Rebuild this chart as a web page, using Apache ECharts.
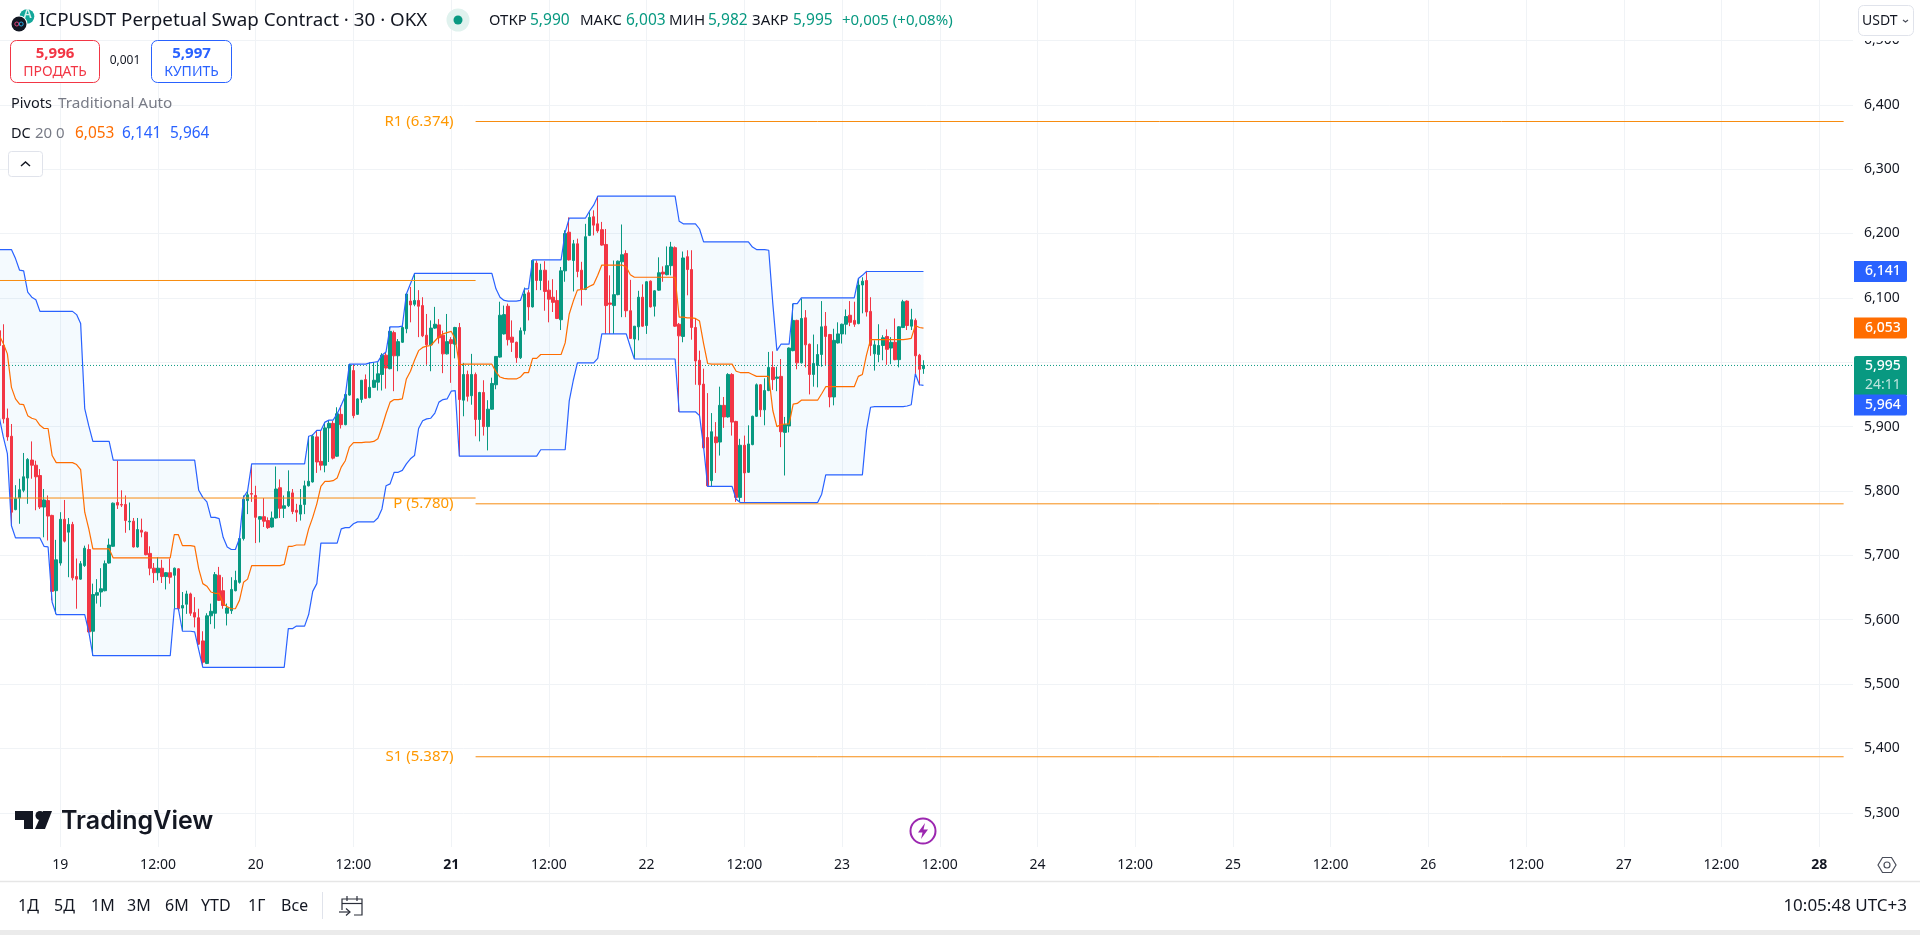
<!DOCTYPE html>
<html>
<head>
<meta charset="utf-8">
<title>ICPUSDT Perpetual Swap Contract</title>
<style>html,body{margin:0;padding:0;background:#fff;overflow:hidden}#chart{width:1920px;height:935px}</style>
<script src="https://cdn.jsdelivr.net/npm/echarts@6/dist/echarts.min.js"></script>
</head>
<body>
<div id="chart"></div>
<script>
// 30-minute bars; bar number 0 opens on the 19th at 00:00, so the first bar is number -15.
const firstBar = -15;

const barOpen = [
6.049,6.026,5.913,5.885,5.771,5.789,5.801,5.820,5.848,5.840,
5.824,5.775,5.785,5.762,5.645,5.688,5.756,5.736,5.748,5.667,
5.663,5.684,5.709,5.582,5.638,5.643,5.645,5.688,5.714,5.782,
5.779,5.779,5.752,5.753,5.713,5.739,5.736,5.703,5.680,5.673,
5.680,5.667,5.673,5.669,5.679,5.618,5.624,5.640,5.611,5.603,
5.567,5.532,5.606,5.610,5.669,5.645,5.610,5.614,5.645,5.658,
5.726,5.785,5.796,5.793,5.756,5.760,5.754,5.744,5.758,5.805,
5.773,5.777,5.797,5.770,5.764,5.779,5.808,5.814,5.884,5.846,
5.840,5.898,5.905,5.854,5.919,5.903,5.949,5.987,5.919,5.942,
5.973,5.945,5.961,5.969,5.981,6.011,5.990,6.046,6.010,6.031,
6.052,6.095,6.090,6.096,6.088,6.042,6.027,6.053,6.058,6.042,
6.013,6.035,6.028,6.054,5.941,5.981,5.948,5.981,5.911,5.953,
5.900,5.927,5.965,6.008,6.044,6.087,6.039,6.031,6.007,6.049,
6.108,6.086,6.154,6.127,6.143,6.112,6.101,6.096,6.066,6.142,
6.202,6.158,6.184,6.143,6.113,6.197,6.226,6.215,6.206,6.183,
6.092,6.088,6.105,6.156,6.169,6.080,6.036,6.055,6.101,6.057,
6.126,6.087,6.112,6.140,6.136,6.150,6.178,6.059,6.040,6.164,
6.144,6.054,6.003,5.966,5.883,5.816,5.884,5.876,5.933,5.915,
5.981,5.908,5.790,5.871,5.829,5.872,5.916,5.965,5.926,5.956,
5.992,5.975,5.978,5.891,5.901,6.018,6.065,5.999,6.069,6.028,
5.981,5.995,6.012,6.056,6.043,5.946,6.030,6.044,6.059,6.073,
6.065,6.060,6.120,6.127,6.079,6.013,6.012,6.026,6.040,6.022,
6.031,6.004,6.054,6.095,6.056,6.065,6.011,5.990];

const barClose = [
6.026,5.912,5.884,5.767,5.788,5.802,5.822,5.849,5.840,5.822,
5.775,5.786,5.761,5.644,5.693,5.756,5.722,5.748,5.665,5.663,
5.687,5.711,5.581,5.639,5.642,5.648,5.687,5.716,5.781,5.778,
5.778,5.754,5.753,5.713,5.740,5.736,5.701,5.680,5.673,5.680,
5.667,5.673,5.666,5.680,5.617,5.622,5.640,5.610,5.604,5.562,
5.534,5.606,5.613,5.670,5.630,5.622,5.618,5.647,5.661,5.726,
5.787,5.794,5.795,5.759,5.760,5.753,5.743,5.758,5.803,5.773,
5.777,5.799,5.768,5.767,5.778,5.808,5.815,5.885,5.845,5.840,
5.898,5.905,5.851,5.920,5.903,5.950,5.996,5.917,5.943,5.972,
5.944,5.961,5.972,5.982,6.011,5.991,6.048,6.010,6.032,6.054,
6.106,6.089,6.096,6.087,6.041,6.027,6.053,6.059,6.038,6.013,
6.032,6.029,6.054,5.942,5.981,5.947,5.981,5.911,5.953,5.900,
5.927,5.967,6.009,6.073,6.074,6.035,6.031,6.007,6.049,6.106,
6.086,6.158,6.127,6.143,6.110,6.098,6.093,6.068,6.142,6.200,
6.159,6.184,6.141,6.113,6.195,6.225,6.213,6.204,6.182,6.088,
6.090,6.105,6.157,6.167,6.080,6.037,6.056,6.101,6.056,6.125,
6.086,6.111,6.139,6.137,6.150,6.179,6.056,6.041,6.162,6.144,
6.054,6.002,5.965,5.867,5.808,5.892,5.875,5.933,5.915,5.981,
5.907,5.790,5.871,5.828,5.873,5.916,5.965,5.926,5.956,5.992,
5.973,5.977,5.892,5.903,6.022,6.065,5.999,6.068,6.027,5.981,
5.998,6.012,6.055,6.040,5.946,6.034,6.044,6.059,6.071,6.062,
6.059,6.120,6.126,6.078,6.026,6.027,6.026,6.038,6.020,6.031,
6.004,6.055,6.094,6.057,6.066,6.010,5.989,5.995];

const barHigh = [
6.060,6.059,5.928,5.904,5.809,5.819,5.859,5.851,5.877,5.847,
5.834,5.803,5.793,5.763,5.724,5.767,5.786,5.758,5.752,5.695,
5.691,5.715,5.717,5.656,5.663,5.680,5.692,5.726,5.782,5.847,
5.801,5.793,5.782,5.758,5.758,5.757,5.737,5.714,5.688,5.697,
5.693,5.674,5.695,5.681,5.680,5.643,5.645,5.642,5.635,5.617,
5.582,5.610,5.625,5.674,5.682,5.666,5.625,5.666,5.676,5.726,
5.793,5.801,5.842,5.808,5.761,5.789,5.759,5.768,5.838,5.818,
5.793,5.832,5.803,5.780,5.803,5.816,5.885,5.888,5.894,5.894,
5.907,5.909,5.909,5.930,5.933,5.951,5.997,5.997,5.944,5.972,
5.981,6.000,6.000,6.000,6.014,6.016,6.055,6.049,6.036,6.057,
6.107,6.117,6.137,6.112,6.101,6.075,6.065,6.086,6.067,6.049,
6.075,6.039,6.055,6.061,5.999,5.987,6.013,5.984,5.954,5.972,
5.941,5.976,6.009,6.094,6.088,6.091,6.065,6.032,6.054,6.116,
6.112,6.158,6.158,6.153,6.157,6.127,6.129,6.112,6.148,6.205,
6.225,6.190,6.192,6.156,6.215,6.233,6.236,6.258,6.218,6.207,
6.135,6.158,6.158,6.214,6.174,6.128,6.056,6.111,6.121,6.126,
6.127,6.112,6.163,6.149,6.180,6.187,6.180,6.061,6.172,6.174,
6.174,6.068,6.018,5.990,5.952,5.921,5.907,5.962,5.946,5.983,
5.983,5.909,5.881,5.886,5.902,5.917,5.967,5.966,5.975,6.016,
6.017,5.993,6.005,5.915,6.023,6.091,6.066,6.099,6.081,6.029,
6.043,6.028,6.095,6.078,6.044,6.052,6.062,6.060,6.082,6.095,
6.094,6.130,6.132,6.142,6.101,6.034,6.059,6.042,6.051,6.039,
6.068,6.056,6.097,6.096,6.083,6.068,6.013,6.003];

const barLow = [
6.020,5.905,5.878,5.746,5.770,5.749,5.798,5.780,5.819,5.770,
5.772,5.728,5.723,5.630,5.609,5.684,5.720,5.666,5.661,5.617,
5.662,5.682,5.580,5.544,5.625,5.620,5.644,5.687,5.713,5.772,
5.775,5.735,5.739,5.712,5.712,5.728,5.700,5.669,5.657,5.661,
5.657,5.647,5.656,5.617,5.614,5.583,5.609,5.606,5.588,5.561,
5.527,5.531,5.593,5.586,5.629,5.617,5.591,5.609,5.644,5.656,
5.723,5.764,5.783,5.719,5.720,5.744,5.741,5.743,5.757,5.758,
5.758,5.775,5.764,5.752,5.754,5.764,5.807,5.813,5.828,5.832,
5.829,5.845,5.849,5.853,5.897,5.902,5.948,5.913,5.918,5.937,
5.943,5.944,5.960,5.956,5.956,5.959,5.989,5.955,5.986,6.030,
6.045,6.062,6.087,6.039,6.039,5.996,5.986,6.052,6.029,5.983,
6.012,5.968,6.006,5.854,5.916,5.939,5.934,5.885,5.877,5.886,
5.863,5.926,5.958,6.007,6.043,6.026,6.016,5.999,6.005,6.043,
6.065,6.085,6.112,6.112,6.080,6.062,6.078,6.067,6.050,6.125,
6.158,6.110,6.132,6.088,6.112,6.196,6.197,6.201,6.181,6.044,
6.044,6.044,6.104,6.070,6.070,6.037,6.005,6.034,6.055,6.044,
6.085,6.071,6.111,6.125,6.135,6.135,6.055,5.923,6.031,6.104,
6.035,5.965,5.916,5.866,5.807,5.807,5.828,5.855,5.898,5.914,
5.886,5.783,5.783,5.783,5.828,5.871,5.915,5.915,5.902,5.955,
5.957,5.955,5.868,5.824,5.891,6.017,5.989,5.998,5.992,5.950,
5.962,5.961,5.993,5.995,5.930,5.933,6.029,6.029,6.043,6.056,
6.055,6.059,6.076,6.071,6.010,5.987,6.000,6.003,5.996,5.997,
6.003,5.992,6.053,6.050,6.050,5.982,5.964,5.982];

// Donchian channel, length 20
const dcUpper = [
6.175,6.175,6.175,6.175,6.161,6.143,6.142,6.109,6.101,6.097,
6.079,6.079,6.079,6.079,6.079,6.079,6.079,6.079,6.079,6.074,
6.060,5.928,5.901,5.877,5.877,5.877,5.877,5.877,5.848,5.848,
5.848,5.848,5.848,5.848,5.848,5.848,5.848,5.848,5.848,5.848,
5.848,5.848,5.848,5.848,5.848,5.848,5.848,5.848,5.848,5.801,
5.790,5.783,5.759,5.759,5.757,5.728,5.713,5.709,5.709,5.726,
5.790,5.800,5.842,5.842,5.842,5.842,5.842,5.842,5.842,5.842,
5.842,5.842,5.842,5.842,5.842,5.842,5.885,5.887,5.894,5.894,
5.907,5.910,5.910,5.920,5.933,5.948,5.997,5.997,5.997,5.997,
5.997,5.999,6.000,6.001,6.011,6.016,6.055,6.055,6.055,6.056,
6.106,6.122,6.138,6.138,6.138,6.138,6.138,6.138,6.138,6.138,
6.138,6.138,6.138,6.138,6.138,6.138,6.138,6.138,6.138,6.138,
6.138,6.138,6.114,6.101,6.096,6.095,6.095,6.095,6.096,6.114,
6.114,6.159,6.159,6.159,6.159,6.159,6.159,6.159,6.159,6.202,
6.224,6.224,6.224,6.224,6.224,6.235,6.244,6.258,6.258,6.258,
6.258,6.258,6.258,6.258,6.258,6.258,6.258,6.258,6.258,6.258,
6.258,6.258,6.258,6.258,6.258,6.258,6.258,6.219,6.215,6.215,
6.215,6.215,6.207,6.187,6.187,6.187,6.187,6.187,6.187,6.187,
6.187,6.187,6.187,6.187,6.187,6.179,6.175,6.175,6.175,6.174,
6.091,6.018,6.028,6.028,6.028,6.091,6.091,6.100,6.100,6.100,
6.100,6.100,6.100,6.100,6.100,6.100,6.100,6.100,6.100,6.100,
6.100,6.130,6.135,6.141,6.141,6.141,6.141,6.141,6.141,6.141,
6.141,6.141,6.141,6.141,6.141,6.141,6.141,6.141];

const dcLower = [
5.915,5.884,5.858,5.746,5.727,5.727,5.727,5.727,5.727,5.727,
5.727,5.714,5.713,5.627,5.608,5.608,5.608,5.608,5.608,5.608,
5.608,5.608,5.581,5.544,5.544,5.544,5.544,5.544,5.544,5.544,
5.544,5.544,5.544,5.544,5.544,5.544,5.544,5.544,5.544,5.544,
5.544,5.544,5.544,5.617,5.617,5.582,5.582,5.582,5.581,5.553,
5.526,5.526,5.526,5.526,5.526,5.526,5.526,5.526,5.526,5.526,
5.526,5.526,5.526,5.526,5.526,5.526,5.526,5.526,5.526,5.526,
5.526,5.586,5.586,5.590,5.590,5.590,5.608,5.644,5.656,5.719,
5.719,5.719,5.719,5.719,5.741,5.743,5.743,5.749,5.752,5.752,
5.752,5.752,5.752,5.758,5.772,5.808,5.811,5.829,5.829,5.832,
5.842,5.850,5.855,5.897,5.909,5.912,5.913,5.921,5.938,5.942,
5.943,5.955,5.956,5.854,5.854,5.854,5.854,5.854,5.854,5.854,
5.854,5.854,5.854,5.854,5.854,5.854,5.854,5.854,5.854,5.854,
5.854,5.854,5.854,5.864,5.864,5.864,5.864,5.864,5.864,5.864,
5.940,5.972,5.999,5.999,5.999,5.999,5.999,6.006,6.044,6.044,
6.044,6.044,6.044,6.044,6.044,6.024,6.005,6.005,6.005,6.005,
6.005,6.005,6.005,6.005,6.005,6.005,6.005,5.923,5.923,5.923,
5.923,5.923,5.917,5.868,5.807,5.807,5.807,5.807,5.807,5.807,
5.807,5.787,5.782,5.782,5.782,5.782,5.782,5.782,5.782,5.782,
5.782,5.782,5.782,5.782,5.782,5.782,5.782,5.782,5.782,5.782,
5.782,5.782,5.795,5.825,5.825,5.825,5.825,5.825,5.825,5.825,
5.825,5.825,5.825,5.894,5.930,5.931,5.931,5.931,5.931,5.931,
5.931,5.931,5.931,5.932,5.934,5.982,5.965,5.964];

const dcMiddle = [
6.042,6.029,6.013,5.961,5.943,5.935,5.934,5.917,5.913,5.911,
5.902,5.897,5.897,5.855,5.844,5.844,5.844,5.844,5.844,5.841,
5.833,5.767,5.741,5.710,5.710,5.710,5.710,5.710,5.696,5.696,
5.696,5.696,5.696,5.696,5.696,5.696,5.696,5.696,5.696,5.696,
5.696,5.696,5.696,5.732,5.732,5.715,5.715,5.715,5.714,5.679,
5.656,5.652,5.643,5.641,5.641,5.625,5.620,5.617,5.617,5.630,
5.658,5.663,5.684,5.684,5.684,5.684,5.684,5.684,5.684,5.684,
5.686,5.714,5.714,5.716,5.716,5.716,5.741,5.759,5.780,5.807,
5.815,5.815,5.816,5.820,5.837,5.847,5.868,5.875,5.875,5.875,
5.876,5.876,5.877,5.881,5.899,5.920,5.938,5.942,5.942,5.943,
5.974,5.986,6.003,6.018,6.023,6.025,6.026,6.033,6.040,6.044,
6.046,6.048,6.036,5.996,5.997,5.997,5.997,5.997,5.997,5.997,
5.997,5.997,5.985,5.977,5.975,5.974,5.974,5.974,5.977,5.984,
5.984,6.006,6.006,6.012,6.012,6.012,6.012,6.012,6.012,6.030,
6.075,6.095,6.112,6.113,6.114,6.118,6.121,6.135,6.151,6.151,
6.151,6.151,6.151,6.151,6.148,6.136,6.132,6.132,6.132,6.132,
6.132,6.132,6.132,6.132,6.132,6.132,6.132,6.070,6.070,6.069,
6.069,6.068,6.064,6.029,5.998,5.997,5.997,5.997,5.997,5.997,
5.997,5.986,5.984,5.984,5.984,5.981,5.978,5.978,5.978,5.978,
5.925,5.900,5.903,5.904,5.904,5.935,5.936,5.941,5.941,5.941,
5.941,5.941,5.951,5.962,5.962,5.962,5.962,5.962,5.962,5.962,
5.962,5.978,5.981,6.011,6.035,6.035,6.035,6.035,6.035,6.035,
6.035,6.035,6.035,6.036,6.037,6.057,6.054,6.053];

// Pivot levels: previous period on the left, current period on the right
const pivotBreakBar = 102;
const pivotEndBar = 438;
const previousPivots = [6.127, 5.789];
const currentPivotNames = ['R1', 'P', 'S1'];
const currentPivots = [6.374, 5.780, 5.387];

const priceTicks = [5.3, 5.4, 5.5, 5.6, 5.7, 5.8, 5.9, 6.0, 6.1, 6.2, 6.3, 6.4, 6.5];
const timeTickLabels = ['19','12:00','20','12:00','21','12:00','22','12:00','23','12:00','24','12:00','25','12:00','26','12:00','27','12:00','28'];
const boldTimeLabels = ['21', '28'];
const barsPerTick = 24;

const lastPrice = 5.995;
const countdown = '24:11';

const priceMin = 5.2468, priceMax = 6.5628;
const barMin = -14.81, barMax = 440.3;

const UP = '#089981', DOWN = '#f23645', BLUE = '#2962ff', ORANGE = '#ff6d00', PIVOT = '#f78c10';
const INK = '#131722', MUTED = '#787b86', GRID = '#f0f3f6', EDGE = '#e0e3eb';
const FONT = '"Noto Sans", sans-serif';

const comma = (v) => v.toFixed(3).replace('.', ',');
const barX = (k) => k + firstBar;
const asLine = (arr) => arr.map((v, k) => [barX(k), v]);

const candles = barOpen.map((o, k) => [barX(k), o, barClose[k], barLow[k], barHigh[k]]);

const plainLine = (name, data, color, z, width) => ({
  name, type: 'line', data, z, showSymbol: false, symbol: 'none', silent: true,
  lineStyle: { color, width: width || 1 }, itemStyle: { color }, emphasis: { disabled: true }
});

const pivotSeries = [];
previousPivots.forEach((v, n) => pivotSeries.push(
  plainLine('prev pivot ' + n, [[firstBar, v], [pivotBreakBar, v]], PIVOT, 5)));
currentPivots.forEach((v, n) => pivotSeries.push(
  plainLine(currentPivotNames[n], [[pivotBreakBar, v], [pivotEndBar, v]], PIVOT, 5)));

const axisTag = (value, text, bg, dy) => ({
  value: [barMax, value],
  label: {
    show: true, position: 'right', distance: 1, offset: [0, dy || 0],
    formatter: text, color: '#fff', fontFamily: FONT, fontSize: 14, fontWeight: 500,
    backgroundColor: bg, borderRadius: [0, 2, 2, 0], padding: [0, 6, 0, 11],
    width: 36, height: 21, lineHeight: 21, align: 'left', verticalAlign: 'middle'
  }
});

const t = (text, x, y, fill, size, extra) => ({
  type: 'text', z: 100, silent: true, x, y,
  style: Object.assign({
    text, fill, font: (size || 14) + 'px ' + FONT, textVerticalAlign: 'middle', textAlign: 'left'
  }, extra || {})
});
const box = (x, y, w, h, r, stroke, fill) => ({
  type: 'rect', z: 99, silent: true,
  shape: { x, y, width: w, height: h, r },
  style: { fill: fill || '#fff', stroke: stroke || null, lineWidth: 1 }
});
const path = (points, stroke, width, closed, fill) => ({
  type: closed ? 'polygon' : 'polyline', z: 100, silent: true,
  shape: { points },
  style: { stroke: stroke || null, lineWidth: width || 1, fill: fill || (closed ? null : 'none') }
});
const dot = (cx, cy, r, fill, stroke, lw, z) => ({
  type: 'circle', z: z || 100, silent: true, shape: { cx, cy, r },
  style: { fill: fill || 'none', stroke: stroke || null, lineWidth: lw || 1 }
});

const chrome = [
  // symbol logo
  dot(27, 16.5, 7.3, '#14a79a'),
  t('A', 27.5, 15, '#d8f3ef', 8, { textAlign: 'center', fontWeight: 'bold' }),
  dot(19, 24, 8.5, '#fff', null, 1, 100),
  dot(19, 24, 7.5, '#131722', null, 1, 100),
  dot(16.8, 24, 2, 'none', '#e0457b', 1, 101),
  dot(21.2, 24, 2, 'none', '#29abe2', 1, 101),
  t('ICPUSDT Perpetual Swap Contract · 30 · OKX', 39, 21, INK, 18.8),
  dot(458, 20, 11.5, '#e0f2ee'),
  dot(458, 20, 4.5, UP),
  // open, high, low, close readout
  t('ОТКР', 489, 21, INK, 15),
  t('5,990', 530, 21, UP, 15.5),
  t('МАКС', 580, 21, INK, 15),
  t('6,003', 626, 21, UP, 15.5),
  t('МИН', 669, 21, INK, 15),
  t('5,982', 708, 21, UP, 15.5),
  t('ЗАКР', 752, 21, INK, 15),
  t('5,995', 793, 21, UP, 15.5),
  t('+0,005 (+0,08%)', 842, 21, UP, 15),
  // order buttons
  box(10.5, 40.5, 89, 42, 6, DOWN),
  t('5,996', 55, 54, DOWN, 15, { textAlign: 'center', font: 'bold 15px ' + FONT }),
  t('ПРОДАТЬ', 55, 72, DOWN, 14, { textAlign: 'center' }),
  t('0,001', 125, 61, INK, 12, { textAlign: 'center' }),
  box(151.5, 40.5, 80, 42, 6, BLUE),
  t('5,997', 191.5, 54, BLUE, 15, { textAlign: 'center', font: 'bold 15px ' + FONT }),
  t('КУПИТЬ', 191.5, 72, BLUE, 14, { textAlign: 'center' }),
  // indicator legend
  t('Pivots', 11, 104, INK, 14.5),
  t('Traditional Auto', 58, 104, MUTED, 15.3),
  t('DC', 11, 134, INK, 14.5),
  t('20 0', 35, 134, MUTED, 15),
  t('6,053', 75, 134, ORANGE, 15.4),
  t('6,141', 122, 134, BLUE, 15.4),
  t('5,964', 170, 134, BLUE, 15.4),
  box(8.5, 151.5, 34, 25, 3, EDGE),
  path([[21, 166], [25.5, 162], [30, 166]], INK, 1.5),
  // currency selector sits over the top of the price scale
  { type: 'rect', z: 98, silent: true, shape: { x: 1853, y: 0, width: 67, height: 41 }, style: { fill: '#fff' } },
  box(1858.5, 5.5, 55, 30, 5, EDGE),
  t('USDT', 1862, 21, INK, 14),
  path([[1903, 20], [1905.5, 22], [1908, 20]], '#4a4e5a', 1.2),
  // watermark
  path([[15, 811], [33, 811], [33, 829], [24, 829], [24, 820], [15, 820]], null, 1, true, INK),
  dot(40, 815.5, 4.5, INK),
  path([[43, 811], [52, 811], [45, 829], [35, 829]], null, 1, true, INK),
  t('TradingView', 61, 821, INK, 25, { font: '600 25px Inter, sans-serif' }),
  // replay badge
  dot(923, 831, 12.5, '#fff', '#9c27b0', 2),
  path([[925, 823], [918, 832.5], [922.5, 832.5], [921, 839], [928, 829.5], [923.5, 829.5]], null, 1, true, '#9c27b0'),
  // settings cog on the scale corner
  path([[1878, 865], [1882.5, 857.5], [1891.5, 857.5], [1896, 865], [1891.5, 872.5], [1882.5, 872.5]], '#4a4e5a', 1.2, true),
  dot(1887, 865, 3, 'none', '#4a4e5a', 1.2),
  // range toolbar
  { type: 'line', z: 99, silent: true, shape: { x1: 0, y1: 881.5, x2: 1920, y2: 881.5 }, style: { stroke: '#e6e6e6', lineWidth: 1.5 } },
  t('1Д', 18, 906, INK, 16),
  t('5Д', 54, 906, INK, 16),
  t('1М', 91, 906, INK, 16),
  t('3М', 127, 906, INK, 16),
  t('6М', 165, 906, INK, 16),
  t('YTD', 201, 906, INK, 16),
  t('1Г', 248, 906, INK, 16),
  t('Все', 281, 906, INK, 16),
  { type: 'line', z: 99, silent: true, shape: { x1: 322.5, y1: 892, x2: 322.5, y2: 919 }, style: { stroke: EDGE, lineWidth: 1 } },
  path([[342, 910], [342, 899], [362, 899], [362, 915], [354, 915]], '#2a2e39', 1.2),
  path([[342, 903.5], [362, 903.5]], '#2a2e39', 1.2),
  path([[347, 896], [347, 901]], '#2a2e39', 1.2),
  path([[357, 896], [357, 901]], '#2a2e39', 1.2),
  path([[339, 912], [350, 912]], '#2a2e39', 1.2),
  path([[346, 908.5], [350, 912], [346, 915.5]], '#2a2e39', 1.2),
  t('10:05:48 UTC+3', 1907, 906, INK, 17, { textAlign: 'right' }),
  { type: 'rect', z: 99, silent: true, shape: { x: 0, y: 930, width: 1920, height: 5 }, style: { fill: '#ebebeb' } }
];

const chart = echarts.init(document.getElementById('chart'));
chart.setOption({
  animation: false,
  backgroundColor: '#fff',
  tooltip: { show: false },
  grid: { left: 0, right: 67, top: 0, bottom: 88 },
  xAxis: {
    type: 'value', min: barMin, max: barMax,
    axisLine: { show: false },
    axisTick: { show: false, customValues: timeTickLabels.map((_, n) => n * barsPerTick) },
    splitLine: { show: true, lineStyle: { color: GRID, width: 1 } },
    axisLabel: {
      customValues: timeTickLabels.map((_, n) => n * barsPerTick),
      margin: 11, color: INK, fontFamily: FONT, fontSize: 14,
      showMinLabel: true, showMaxLabel: true,
      formatter: (v) => {
        const s = timeTickLabels[Math.round(v / barsPerTick)];
        return boldTimeLabels.includes(s) ? '{b|' + s + '}' : s;
      },
      rich: { b: { fontWeight: 'bold', color: INK, fontFamily: FONT, fontSize: 14 } }
    }
  },
  yAxis: {
    type: 'value', position: 'right', min: priceMin, max: priceMax,
    axisLine: { show: false },
    axisTick: { show: false, customValues: priceTicks },
    splitLine: { show: true, lineStyle: { color: GRID, width: 1 } },
    axisLabel: {
      customValues: priceTicks, margin: 11, color: INK, fontFamily: FONT, fontSize: 14,
      formatter: (v) => comma(v)
    }
  },
  graphic: { elements: chrome },
  series: [
    // channel fill: one polygon running along the upper line and back along the lower one
    { name: 'dc fill', type: 'custom', data: asLine(dcUpper), encode: { x: 0, y: 1 }, silent: true, z: 1, clip: true,
      renderItem: (params, api) => {
        if (params.dataIndex !== 0) return null;
        const top = dcUpper.map((v, k) => api.coord([barX(k), v]));
        const bottom = dcLower.map((v, k) => api.coord([barX(k), v])).reverse();
        return { type: 'polygon', shape: { points: top.concat(bottom) }, style: { fill: 'rgba(33,150,243,0.05)' } };
      } },
    { name: 'ICPUSDT', type: 'candlestick', data: candles, barWidth: 3, z: 2, silent: true,
      itemStyle: { color: UP, color0: DOWN, borderColor: UP, borderColor0: DOWN, borderColorDoji: DOWN, borderWidth: 1 } },
    plainLine('DC upper', asLine(dcUpper), BLUE, 4, 1.2),
    plainLine('DC lower', asLine(dcLower), BLUE, 4, 1.2),
    plainLine('DC basis', asLine(dcMiddle), ORANGE, 4, 1.2),
    ...pivotSeries,
    Object.assign(plainLine('last price', [[barMin, lastPrice], [barMax, lastPrice]], UP, 3),
      { lineStyle: { color: UP, width: 1, type: [1, 2] } }),
    // pivot captions, right-aligned just before each level starts
    { name: 'pivot captions', type: 'scatter', symbolSize: 0, z: 6, silent: true, itemStyle: { opacity: 1 },
      data: currentPivots.map((v, n) => ({
        value: [pivotBreakBar, v],
        label: { show: true, position: 'left', distance: 22, color: '#ff9800', fontFamily: FONT, fontSize: 15, opacity: 1,
                 formatter: currentPivotNames[n] + ' (' + v.toFixed(3) + ')' }
      })) },
    // value tags on the price scale
    { name: 'scale tags', type: 'scatter', symbolSize: 0, z: 7, silent: true, clip: false, itemStyle: { opacity: 1 },
      data: [
        axisTag(dcUpper[dcUpper.length - 1], comma(dcUpper[dcUpper.length - 1]), BLUE),
        axisTag(dcMiddle[dcMiddle.length - 1], comma(dcMiddle[dcMiddle.length - 1]), ORANGE),
        {
          value: [barMax, lastPrice],
          label: {
            show: true, position: 'right', distance: 1, offset: [0, 10],
            formatter: '{p|' + comma(lastPrice) + '}\n{c|' + countdown + '}',
            backgroundColor: UP, borderRadius: [2, 2, 0, 0], padding: [0, 6, 0, 11],
            rich: {
              p: { color: '#fff', fontFamily: FONT, fontSize: 14, fontWeight: 500, width: 36, height: 19.5, lineHeight: 19.5 },
              c: { color: 'rgba(255,255,255,0.75)', fontFamily: FONT, fontSize: 14, width: 36, height: 19.5, lineHeight: 19.5 }
            }
          }
        },
        axisTag(dcLower[dcLower.length - 1], comma(dcLower[dcLower.length - 1]), BLUE, 19.5)
      ] }
  ]
});
</script>
</body>
</html>
